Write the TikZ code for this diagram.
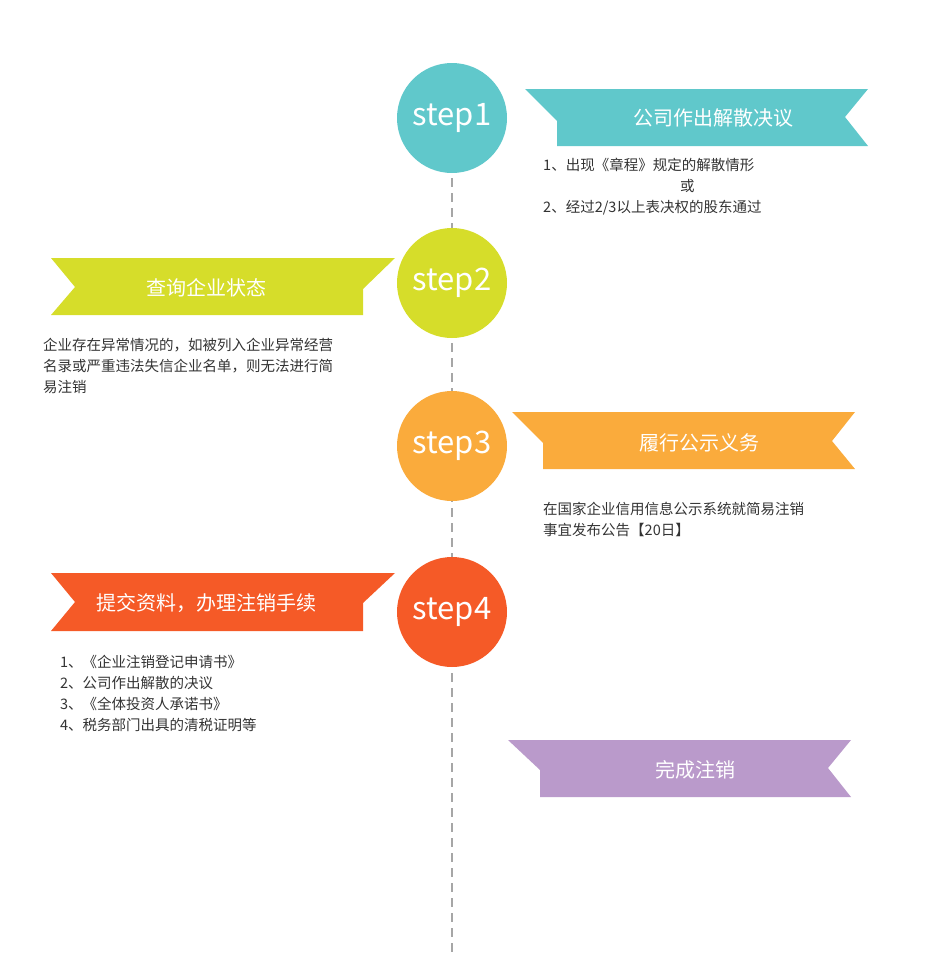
\documentclass[tikz,border=0pt]{standalone}
\usepackage{fontspec}
\setmainfont{Noto Sans CJK SC}
\begin{document}
\begin{tikzpicture}[x=1pt,y=-1pt,
  stepc/.style={circle,minimum size=110pt,inner sep=0pt,text=white,font=\fontsize{31}{31}\selectfont},
  rlabel/.style={text=white,font=\fontsize{20}{20}\selectfont,inner sep=0pt},
  body/.style={text=black!80,font=\fontsize{14.5}{21}\selectfont,align=left,inner sep=0pt,anchor=north west}]
\definecolor{cA}{HTML}{60C8CB}
\definecolor{cB}{HTML}{D6DD2A}
\definecolor{cC}{HTML}{FAAB3C}
\definecolor{cD}{HTML}{F55A27}
\definecolor{cE}{HTML}{BA9ACB}
\useasboundingbox (0,0) rectangle (940,972);
\coordinate (top) at (452,118);
\coordinate (bot) at (452,952);
\draw[gray!70,line width=2.5pt,dash pattern=on 9pt off 6pt] (top) -- (bot);
\node[stepc,fill=cA] (s1) at (452,118) {step1};
\node[stepc,fill=cB] (s2) at (452,283) {step2};
\node[stepc,fill=cC] (s3) at (452,446) {step3};
\node[stepc,fill=cD] (s4) at (452,612) {step4};
% ribbons
\fill[cA] (525,89)--(868,89)--(845,117)--(868,146)--(557,146)--(557,121)--cycle;
\fill[cB] (51,258)--(395,258)--(363,289)--(363,315)--(51,315)--(75,287)--cycle;
\fill[cC] (512,412)--(855,412)--(832,441)--(855,469)--(543,469)--(543,443)--cycle;
\fill[cD] (51,573)--(395,573)--(363,603)--(363,631)--(51,631)--(75,602)--cycle;
\fill[cE] (508,740)--(851,740)--(828,768)--(851,797)--(540,797)--(540,770)--cycle;
\node[rlabel] (l1) at (713,118) {公司作出解散决议};
\node[rlabel] (l2) at (206,288) {查询企业状态};
\node[rlabel] (l3) at (699,443) {履行公示义务};
\node[rlabel] (l4) at (206,603) {提交资料，办理注销手续};
\node[rlabel] (l5) at (695,770) {完成注销};
\node[body] (b1) at (543,158) {1、出现《章程》规定的解散情形\\\hspace*{137pt}或\\2、经过2/3以上表决权的股东通过};
\node[body] (b2) at (43,338) {企业存在异常情况的，如被列入企业异常经营\\名录或严重违法失信企业名单，则无法进行简\\易注销};
\node[body] (b3) at (543,502) {在国家企业信用信息公示系统就简易注销\\事宜发布公告【20日】};
\node[body] (b4) at (60,655) {1、《企业注销登记申请书》\\2、公司作出解散的决议\\3、《全体投资人承诺书》\\4、税务部门出具的清税证明等};
\end{tikzpicture}
\end{document}
